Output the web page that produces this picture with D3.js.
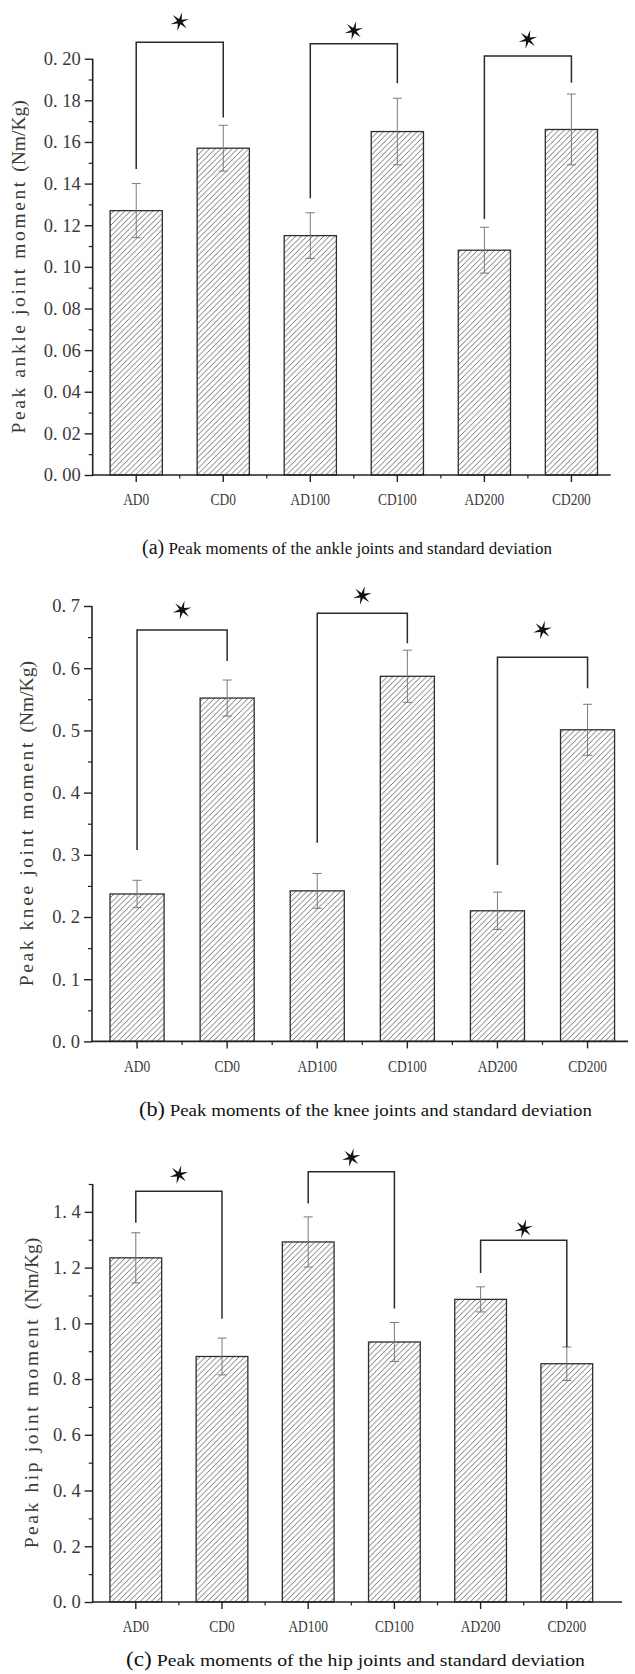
<!DOCTYPE html>
<html>
<head>
<meta charset="utf-8">
<script src="https://cdn.jsdelivr.net/npm/d3@7/dist/d3.min.js"></script>
<style>
  html, body { margin: 0; padding: 0; background: #fff; }
  svg { display: block; }
</style>
</head>
<body>
<svg id="fig" width="635" height="1674"></svg>
<script>
// Groups (x categories)
const categories = ["AD0", "CD0", "AD100", "CD100", "AD200", "CD200"];

// Peak ankle joint moment (Nm/Kg): mean and standard deviation
const ankleMean = [0.127, 0.157, 0.115, 0.165, 0.108, 0.166];
const ankleSD   = [0.013, 0.011, 0.011, 0.016, 0.011, 0.017];
const ankleTicks = [0.00, 0.02, 0.04, 0.06, 0.08, 0.10, 0.12, 0.14, 0.16, 0.18, 0.20];

// Peak knee joint moment (Nm/Kg)
const kneeMean = [0.237, 0.552, 0.242, 0.587, 0.210, 0.501];
const kneeSD   = [0.022, 0.029, 0.028, 0.042, 0.030, 0.041];
const kneeTicks = [0.0, 0.1, 0.2, 0.3, 0.4, 0.5, 0.6, 0.7];

// Peak hip joint moment (Nm/Kg)
const hipMean = [1.235, 0.881, 1.292, 0.933, 1.086, 0.855];
const hipSD   = [0.090, 0.066, 0.090, 0.070, 0.045, 0.060];
const hipTicks = [0.0, 0.2, 0.4, 0.6, 0.8, 1.0, 1.2, 1.4];

// Significance brackets between paired groups:
// [left index, right index, left leg end, bracket top, right leg end, star level] (data units)
const ankleBrackets = [
  [0, 1, 0.1470, 0.2079, 0.1718, 0.2178],
  [2, 3, 0.1329, 0.2072, 0.1882, 0.2135],
  [4, 5, 0.1230, 0.2013, 0.1885, 0.2093]
];
const kneeBrackets = [
  [0, 1, 0.3077, 0.6614, 0.6116, 0.6936],
  [2, 3, 0.3195, 0.6883, 0.6400, 0.7168],
  [4, 5, 0.2836, 0.6175, 0.5677, 0.6614]
];
const hipBrackets = [
  [0, 1, 1.361, 1.474, 1.016, 1.534],
  [2, 3, 1.430, 1.544, 1.053, 1.595],
  [4, 5, 1.181, 1.298, 0.914, 1.340]
];

const svg = d3.select("#fig");
const SERIF = "'Liberation Serif', 'Times New Roman', serif";

// Diagonal hatch used to fill every bar
const defs = svg.append("defs");
const hs = 5.6;
const pat = defs.append("pattern")
  .attr("id", "hatch")
  .attr("patternUnits", "userSpaceOnUse")
  .attr("width", hs).attr("height", hs);
pat.append("rect").attr("width", hs).attr("height", hs).attr("fill", "#fff");
pat.append("path")
  .attr("d", `M0,${hs} L${hs},0 M${-hs/2},${hs/2} L${hs/2},${-hs/2} M${hs/2},${hs*1.5} L${hs*1.5},${hs/2}`)
  .attr("stroke", "#4a4a4a").attr("stroke-width", 0.8);

// Six-pointed star marking significance
function starPath(r1, r2, rot) {
  const pts = [];
  for (let i = 0; i < 12; i++) {
    const a = rot + i * Math.PI / 6;
    const r = i % 2 === 0 ? r1 : r2;
    pts.push([Math.cos(a) * r, Math.sin(a) * r]);
  }
  return "M" + pts.map(p => p[0].toFixed(2) + "," + p[1].toFixed(2)).join("L") + "Z";
}

function fmtTick(decimals) {
  return v => v.toFixed(decimals).replace(".", ". ");
}

function drawPanel(o) {
  const g = svg.append("g");

  const x = d3.scaleBand()
    .domain(categories)
    .range([o.left, o.left + o.step * categories.length])
    .paddingInner(0.4)
    .paddingOuter(0.2);

  const y = d3.scaleLinear()
    .domain([0, o.yMax])
    .range([o.y0, o.yTop]);

  const rows = categories.map((c, i) => ({ c, m: o.mean[i], sd: o.sd[i] }));

  // bars
  g.selectAll("rect.bar").data(rows).join("rect")
    .attr("class", "bar")
    .attr("x", d => x(d.c))
    .attr("width", x.bandwidth())
    .attr("y", d => y(d.m))
    .attr("height", d => y(0) - y(d.m))
    .attr("fill", "url(#hatch)")
    .attr("stroke", "#2e2e2e")
    .attr("stroke-width", 1.3);

  // error bars (mean ± SD)
  const eb = g.selectAll("g.err").data(rows).join("g").attr("class", "err")
    .attr("stroke", "#7a7a7a").attr("stroke-width", 1);
  eb.append("line")
    .attr("x1", d => x(d.c) + x.bandwidth() / 2)
    .attr("x2", d => x(d.c) + x.bandwidth() / 2)
    .attr("y1", d => y(d.m - d.sd))
    .attr("y2", d => y(d.m + d.sd));
  [1, -1].forEach(s => {
    eb.append("line")
      .attr("x1", d => x(d.c) + x.bandwidth() / 2 - 4.5)
      .attr("x2", d => x(d.c) + x.bandwidth() / 2 + 4.5)
      .attr("y1", d => y(d.m + s * d.sd))
      .attr("y2", d => y(d.m + s * d.sd));
  });

  // y axis: major ticks with labels, minor ticks between
  const yAxis = d3.axisLeft(y)
    .tickValues(o.ticks)
    .tickFormat(fmtTick(o.decimals))
    .tickSize(8)
    .tickPadding(4);
  const ya = g.append("g").attr("transform", `translate(${o.left},0)`).call(yAxis);
  ya.select(".domain").remove();
  ya.selectAll(".tick line").attr("stroke", "#222").attr("stroke-width", 1.4);
  ya.selectAll(".tick text")
    .attr("font-family", SERIF).attr("font-size", 18.5).attr("fill", "#3a3a3a");

  const minor = d3.axisLeft(y).tickValues(o.minor).tickSize(4).tickFormat("");
  const ym = g.append("g").attr("transform", `translate(${o.left},0)`).call(minor);
  ym.select(".domain").remove();
  ym.selectAll(".tick line").attr("stroke", "#222").attr("stroke-width", 1.2);

  g.append("line")
    .attr("x1", o.left).attr("x2", o.left)
    .attr("y1", y(0) + 0.7).attr("y2", y(o.yMax))
    .attr("stroke", "#222").attr("stroke-width", 1.6);

  // x axis
  const xAxis = d3.axisBottom(x).tickSize(7).tickPadding(12);
  const xa = g.append("g").attr("transform", `translate(0,${y(0)})`).call(xAxis);
  xa.select(".domain").remove();
  xa.selectAll(".tick line").attr("stroke", "#222").attr("stroke-width", 1.4);
  xa.selectAll(".tick text")
    .attr("font-family", SERIF).attr("font-size", 16).attr("fill", "#3a3a3a")
    .each(function () {
      const w = this.getComputedTextLength();
      d3.select(this).attr("textLength", w * 0.84).attr("lengthAdjust", "spacingAndGlyphs");
    });

  // minor x ticks between neighbouring groups
  const mids = categories.slice(1).map(c => x(c) - x.step() * x.paddingInner() / 2);
  g.selectAll("line.xminor").data(mids).join("line")
    .attr("class", "xminor")
    .attr("x1", d => d).attr("x2", d => d)
    .attr("y1", y(0)).attr("y2", y(0) + 3.5)
    .attr("stroke", "#222").attr("stroke-width", 1.2);

  g.append("line")
    .attr("x1", o.left - 0.8).attr("x2", o.axisEnd)
    .attr("y1", y(0)).attr("y2", y(0))
    .attr("stroke", "#222").attr("stroke-width", 1.6);

  // significance brackets with stars
  const cx = i => x(categories[i]) + x.bandwidth() / 2;
  const br = g.selectAll("g.bracket").data(o.brackets).join("g").attr("class", "bracket");
  br.append("path")
    .attr("d", d => `M${cx(d[0])},${y(d[2])} V${y(d[3])} H${cx(d[1])} V${y(d[4])}`)
    .attr("fill", "none").attr("stroke", "#2a2a2a").attr("stroke-width", 1.5);
  br.append("path")
    .attr("d", starPath(9.6, 2.7, -Math.PI / 2 + 0.25))
    .attr("transform", d => `translate(${(cx(d[0]) + cx(d[1])) / 2},${y(d[5])})`)
    .attr("fill", "#111");

  // y axis title
  const t = g.append("text")
    .attr("transform", `translate(${o.titleX},${(o.y0 + o.yTop) / 2}) rotate(-90)`)
    .attr("text-anchor", "middle")
    .attr("font-family", SERIF)
    .attr("fill", "#3a3a3a");
  t.append("tspan").attr("font-size", 19.5).attr("letter-spacing", 2.6).text(o.title + " ");
  t.append("tspan").attr("font-size", 19.5).text("(Nm/Kg)");

  // caption
  const cap = svg.append("text")
    .attr("x", o.capX).attr("y", o.capY)
    .attr("font-family", SERIF).attr("fill", "#111")
    .attr("textLength", o.capW).attr("lengthAdjust", "spacingAndGlyphs");
  cap.append("tspan").attr("font-size", 20).text(o.capTag);
  cap.append("tspan").attr("font-size", 17).text(" " + o.caption);
}

drawPanel({
  mean: ankleMean, sd: ankleSD, ticks: ankleTicks, decimals: 2,
  minor: [0.01, 0.03, 0.05, 0.07, 0.09, 0.11, 0.13, 0.15, 0.17, 0.19],
  brackets: ankleBrackets, yMax: 0.20,
  left: 92.7, step: 87.04, axisEnd: 610.7, y0: 475, yTop: 58.7,
  title: "Peak ankle joint moment", titleX: 25,
  capTag: "(a)", caption: "Peak moments of the ankle joints and standard deviation",
  capX: 142, capY: 554, capW: 410
});

drawPanel({
  mean: kneeMean, sd: kneeSD, ticks: kneeTicks, decimals: 1,
  minor: [0.05, 0.15, 0.25, 0.35, 0.45, 0.55, 0.65],
  brackets: kneeBrackets, yMax: 0.70,
  left: 92, step: 90.1, axisEnd: 628, y0: 1041.4, yTop: 606,
  title: "Peak knee joint moment", titleX: 33,
  capTag: "(b)", caption: "Peak moments of the knee joints and standard deviation",
  capX: 139, capY: 1116, capW: 453
});

drawPanel({
  mean: hipMean, sd: hipSD, ticks: hipTicks, decimals: 1,
  minor: [0.1, 0.3, 0.5, 0.7, 0.9, 1.1, 1.3, 1.5],
  brackets: hipBrackets, yMax: 1.5,
  left: 92.7, step: 86.2, axisEnd: 622, y0: 1602, yTop: 1184,
  title: "Peak hip joint moment", titleX: 38,
  capTag: "(c)", caption: "Peak moments of the hip joints and standard deviation",
  capX: 126, capY: 1666, capW: 459
});
</script>
</body>
</html>
